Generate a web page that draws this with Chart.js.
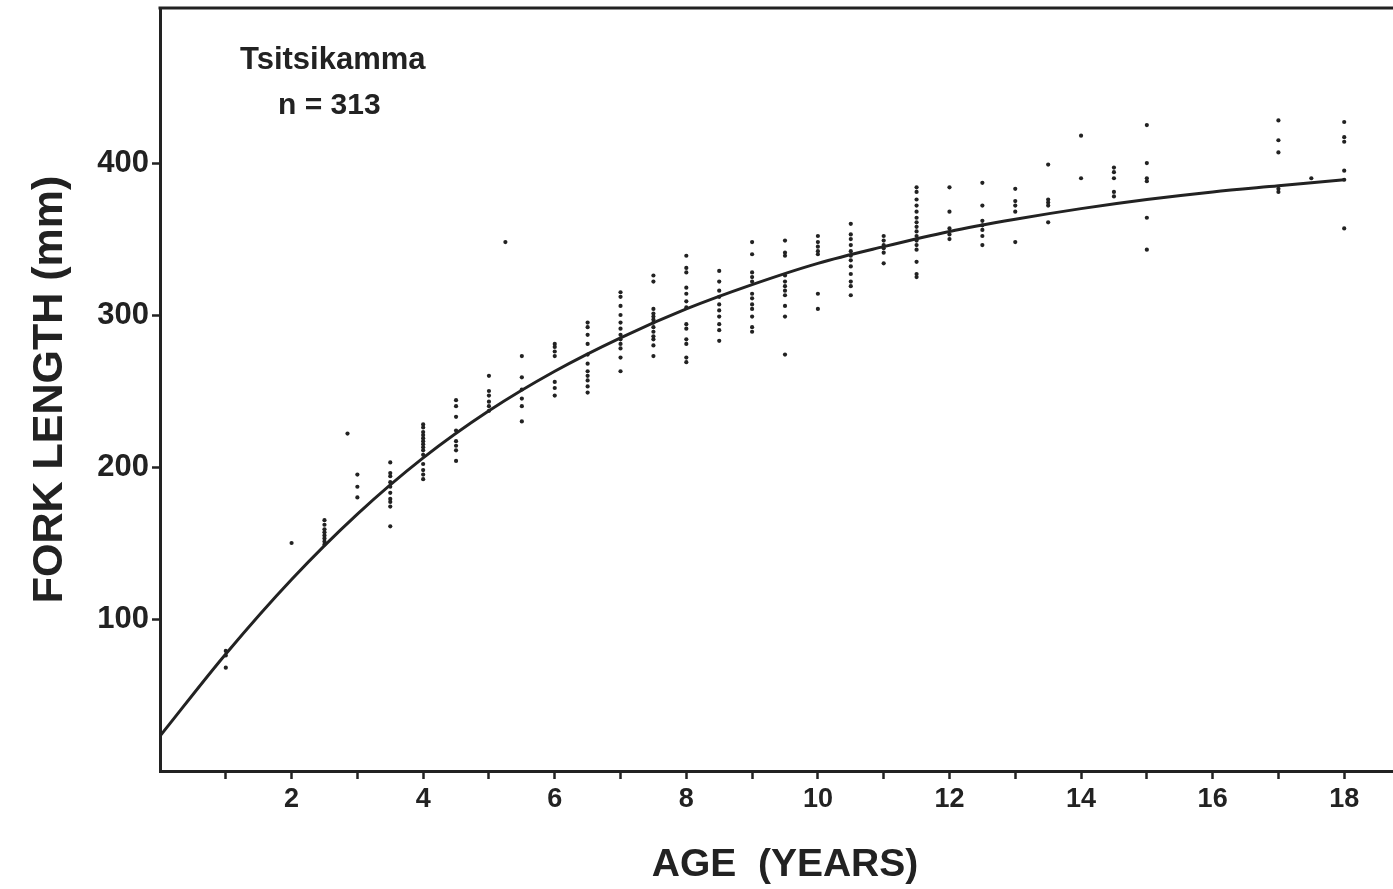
<!DOCTYPE html>
<html>
<head>
<meta charset="utf-8">
<script src="https://cdn.jsdelivr.net/npm/chart.js@4.4.1/dist/chart.umd.min.js"></script>
<style>
  html, body { margin: 0; padding: 0; background: #fff; overflow: hidden; }
  #wrap { width: 1393px; height: 889px; overflow: hidden; }
</style>
</head>
<body>
<div id="wrap"><canvas id="crescimento" width="1414" height="889"></canvas></div>
<script>
// ages (years) with the fork lengths (mm) read at each one
const obsAges = [1, 2, 2.5, 2.85, 3, 3.5, 4, 4.5, 5, 5.25, 5.5, 6, 6.5, 7, 7.5, 8, 8.5, 9,
  9.5, 10, 10.5, 11, 11.5, 12, 12.5, 13, 13.5, 14, 14.5, 15, 17, 17.5, 18];
const obsLengths = [
  [79, 76, 68],
  [150],
  [165, 162, 159, 157, 155, 153, 151, 149],
  [222],
  [195, 187, 180],
  [203, 196, 194, 190, 187, 183, 179, 177, 174, 161],
  [228, 226, 223, 221, 219, 217, 215, 213, 211, 208, 202, 198, 195, 192],
  [244, 240, 233, 224, 217, 214, 211, 204],
  [260, 250, 247, 243, 240, 237],
  [348],
  [273, 259, 251, 245, 240, 230],
  [281, 279, 276, 273, 256, 252, 247],
  [295, 292, 287, 281, 274, 268, 263, 260, 257, 253, 249],
  [315, 312, 306, 300, 295, 291, 287, 284, 281, 278, 272, 263],
  [326, 322, 304, 301, 299, 297, 295, 292, 289, 286, 284, 280, 273],
  [339, 331, 328, 318, 314, 309, 305, 294, 291, 284, 281, 272, 269],
  [329, 322, 316, 312, 307, 303, 299, 294, 290, 283],
  [348, 340, 328, 325, 322, 314, 311, 307, 304, 299, 292, 289],
  [349, 341, 339, 326, 322, 319, 316, 313, 306, 299, 274],
  [352, 348, 345, 342, 340, 314, 304],
  [360, 353, 350, 346, 342, 339, 336, 332, 327, 322, 319, 313],
  [352, 349, 346, 344, 341, 334],
  [384, 381, 376, 372, 368, 364, 361, 358, 355, 352, 349, 346, 343, 335, 327, 325],
  [384, 368, 357, 353, 350],
  [387, 372, 362, 359, 356, 352, 346],
  [383, 375, 372, 368, 348],
  [399, 376, 374, 372, 361],
  [418, 390],
  [397, 394, 390, 381, 378],
  [425, 400, 390, 388, 364, 343],
  [428, 415, 407, 383, 381],
  [390],
  [427, 417, 414, 395, 389, 357],
];

// growth curve
const curveAges = [0, 1, 2, 3, 4, 5, 6, 7, 8, 9, 10, 11, 12, 13, 14, 15, 16, 17, 18];
const curveLengths = [23, 77, 126, 169, 206, 237, 263, 285, 304, 320, 334, 345, 355, 363, 370, 376, 381, 385, 389];

const xTickValues = [1, 2, 3, 4, 5, 6, 7, 8, 9, 10, 11, 12, 13, 14, 15, 16, 17, 18];
const yTickValues = [100, 200, 300, 400];
const siteName = "Tsitsikamma";
const sampleText = "n = 313";

const ink = "#222";
const fontFamily = "'Liberation Sans', Arial, Helvetica, sans-serif";

const pontos = [];
obsAges.forEach((age, i) => {
  obsLengths[i].forEach((len) => pontos.push({ x: age, y: len }));
});
const curva = curveAges.map((age, i) => ({ x: age, y: curveLengths[i] }));

// linha de cima da moldura + as duas notas dentro do grafico
const moldura = {
  id: "moldura",
  afterDraw(chart) {
    const { ctx, chartArea } = chart;
    ctx.save();
    ctx.strokeStyle = ink;
    ctx.lineWidth = 3;
    ctx.beginPath();
    ctx.moveTo(chartArea.left - 1.5, chartArea.top);
    ctx.lineTo(chartArea.right, chartArea.top);
    ctx.stroke();
    ctx.fillStyle = ink;
    ctx.font = "bold 31px " + fontFamily;
    ctx.textBaseline = "alphabetic";
    ctx.fillText(siteName, chartArea.left + 80, chartArea.top + 61);
    ctx.font = "bold 30px " + fontFamily;
    ctx.fillText(sampleText, chartArea.left + 118, chartArea.top + 106);
    ctx.restore();
  },
};

const ctx = document.getElementById("crescimento");

new Chart(ctx, {
  type: "scatter",
  data: {
    datasets: [
      {
        type: "line",
        label: "curva",
        data: curva,
        borderColor: ink,
        borderWidth: 3,
        pointRadius: 0,
        cubicInterpolationMode: "monotone",
        fill: false,
      },
      {
        label: "observados",
        data: pontos,
        backgroundColor: ink,
        borderWidth: 0,
        pointRadius: 2.1,
      },
    ],
  },
  options: {
    responsive: false,
    animation: false,
    layout: { padding: { top: 8, left: 0, right: 0, bottom: 0 } },
    plugins: {
      legend: { display: false },
      tooltip: { enabled: false },
    },
    scales: {
      x: {
        type: "linear",
        min: 0,
        max: 19,
        afterBuildTicks: (s) => {
          s.ticks = xTickValues.map((v) => ({ value: v }));
        },
        afterFit: (s) => {
          s.height = 118;
          s.paddingLeft = 0;
          s.paddingRight = 0;
        },
        ticks: {
          autoSkip: false,
          maxRotation: 0,
          padding: 4,
          color: ink,
          font: { family: fontFamily, size: 27, weight: "bold" },
          callback: (v) => (v % 2 === 0 ? v : ""),
        },
        grid: {
          drawOnChartArea: false,
          drawTicks: true,
          tickLength: 8,
          tickColor: ink,
          tickWidth: 2.5,
        },
        border: { display: true, color: ink, width: 3 },
        title: {
          display: true,
          text: "AGE  (YEARS)",
          color: ink,
          font: { family: fontFamily, size: 39, weight: "bold" },
          padding: { top: 18, bottom: 0 },
        },
      },
      y: {
        type: "linear",
        min: 0,
        max: 502,
        afterBuildTicks: (s) => {
          s.ticks = yTickValues.map((v) => ({ value: v }));
        },
        afterFit: (s) => {
          s.width = 160;
          s.paddingTop = 0;
          s.paddingBottom = 0;
        },
        ticks: {
          padding: 3,
          color: ink,
          font: { family: fontFamily, size: 31, weight: "bold" },
        },
        grid: {
          drawOnChartArea: false,
          drawTicks: true,
          tickLength: 8,
          tickColor: ink,
          tickWidth: 2.5,
        },
        border: { display: true, color: ink, width: 3 },
        title: {
          display: true,
          text: "FORK LENGTH (mm)",
          color: ink,
          font: { family: fontFamily, size: 43, weight: "bold" },
          padding: { top: 24, bottom: 0 },
        },
      },
    },
  },
  plugins: [moldura],
});
</script>
</body>
</html>
